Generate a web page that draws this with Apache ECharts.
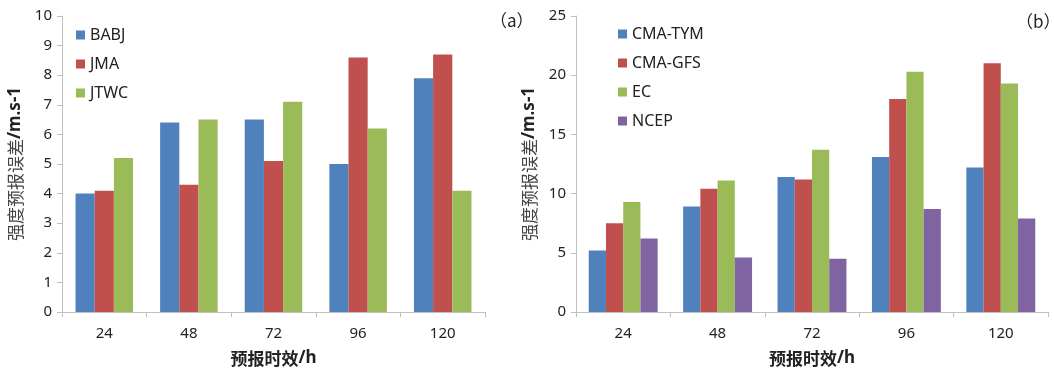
<!DOCTYPE html>
<html><head><meta charset="utf-8">
<script src="https://cdn.jsdelivr.net/npm/echarts@6/dist/echarts.min.js"></script>
<style>html,body{margin:0;padding:0;background:#fff}#c{width:1054px;height:372px}</style>
</head><body><div id="c"></div>
<script>
const categories = ['24', '48', '72', '96', '120'];
const namesA = ['BABJ', 'JMA', 'JTWC'];
const babj = [4.0, 6.4, 6.5, 5.0, 7.9];
const jma  = [4.1, 4.3, 5.1, 8.6, 8.7];
const jtwc = [5.2, 6.5, 7.1, 6.2, 4.1];
const namesB = ['CMA-TYM', 'CMA-GFS', 'EC', 'NCEP'];
const cmaTym = [5.2, 8.9, 11.4, 13.1, 12.2];
const cmaGfs = [7.5, 10.4, 11.2, 18.0, 21.0];
const ec     = [9.3, 11.1, 13.7, 20.3, 19.3];
const ncep   = [6.2, 4.6, 4.5, 8.7, 7.9];
const yTicksA = [0, 10, 1];
const yTicksB = [0, 25, 5];

const colors = ['#4F81BD', '#C0504D', '#9BBB59', '#8064A2'];
const font = '"Noto Sans", "Noto Sans CJK SC", sans-serif';
const axisCol = '#BFBFBF';
const txt = '#222';

function xAx(gi) {
  return {
    type: 'category', gridIndex: gi, data: categories,
    axisLine: {lineStyle: {color: axisCol}},
    axisTick: {show: true, length: 5, lineStyle: {color: axisCol}},
    axisLabel: {color: txt, fontSize: 15, fontFamily: font, margin: 14},
    name: '{c|预报时效}{b|/h}', nameLocation: 'middle', nameGap: 38,
    nameTextStyle: {rich: {
      c: {fontFamily: '"Noto Sans CJK SC"', fontSize: 17, color: txt, fontWeight: 'bold'},
      b: {fontFamily: font, fontSize: 17, color: txt, fontWeight: 'bold'}
    }}
  };
}
function yAx(gi, t, gap) {
  return {
    type: 'value', gridIndex: gi, min: t[0], max: t[1], interval: t[2],
    axisLine: {show: true, lineStyle: {color: axisCol}},
    axisTick: {show: true, length: 5, lineStyle: {color: axisCol}},
    splitLine: {show: false},
    axisLabel: {color: txt, fontSize: 15, fontFamily: font, margin: 10},
    name: '{c|强度预报误差}{b|/m.s-1}', nameLocation: 'middle', nameGap: gap,
    nameTextStyle: {rich: {
      c: {fontFamily: '"Noto Sans CJK SC"', fontSize: 17, color: '#444'},
      b: {fontFamily: font, fontSize: 17, color: txt, fontWeight: 'bold'}
    }}
  };
}
function bar(name, data, gi, ci, gap) {
  return {name, type: 'bar', xAxisIndex: gi, yAxisIndex: gi, data,
    barGap: '0%', barCategoryGap: gap,
    itemStyle: {color: colors[ci]}};
}

const chart = echarts.init(document.getElementById('c'));
chart.setOption({
  animation: false,
  grid: [
    {left: 62, top: 16, width: 423, height: 296},
    {left: 576, top: 16, width: 472, height: 298}
  ],
  xAxis: [xAx(0), xAx(1)],
  yAxis: [yAx(0, yTicksA, 38), yAx(1, yTicksB, 38)],
  legend: [
    {data: namesA, orient: 'vertical', left: 71, top: 22, itemWidth: 9, itemHeight: 9,
     itemGap: 13, icon: 'rect', textStyle: {fontSize: 16, fontFamily: font, color: txt}},
    {data: namesB, orient: 'vertical', left: 613, top: 21, itemWidth: 9, itemHeight: 9,
     itemGap: 13, icon: 'rect', textStyle: {fontSize: 16, fontFamily: font, color: txt}}
  ],
  graphic: [
    {type: 'text', left: 490, top: 12, style: {text: '（a）', fontSize: 17, fontFamily: '"Noto Sans CJK SC"', fill: txt}},
    {type: 'text', left: 1016, top: 13, style: {text: '（b）', fontSize: 17, fontFamily: '"Noto Sans CJK SC"', fill: txt}}
  ],
  series: [
    bar(namesA[0], babj, 0, 0, '32%'),
    bar(namesA[1], jma, 0, 1, '32%'),
    bar(namesA[2], jtwc, 0, 2, '32%'),
    bar(namesB[0], cmaTym, 1, 0, '27%'),
    bar(namesB[1], cmaGfs, 1, 1, '27%'),
    bar(namesB[2], ec, 1, 2, '27%'),
    bar(namesB[3], ncep, 1, 3, '27%')
  ]
});
</script></body></html>
